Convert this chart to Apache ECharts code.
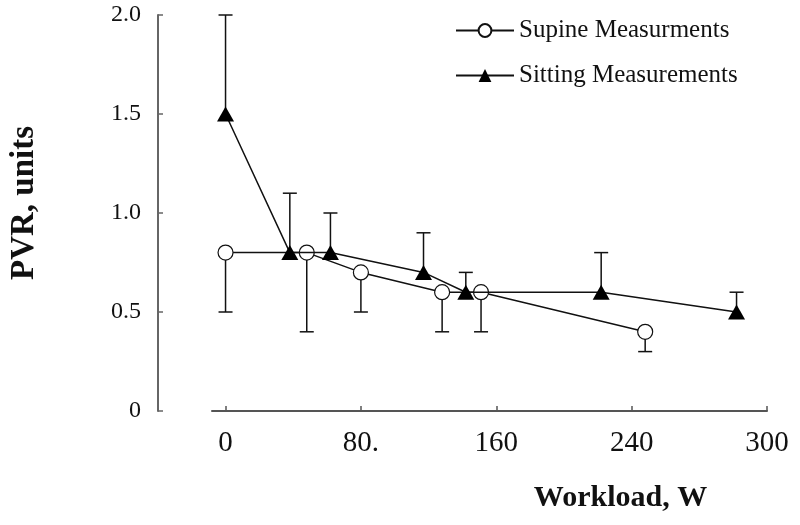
<!DOCTYPE html>
<html>
<head>
<meta charset="utf-8">
<script src="https://cdn.jsdelivr.net/npm/echarts@6/dist/echarts.min.js"></script>
<style>html,body{margin:0;padding:0;background:#fff}#c{width:800px;height:525px}</style>
</head>
<body>
<div id="c"></div>
<script>
// Data
const supineW    = [0, 48, 80, 128, 151, 248];
const supineMean = [0.8, 0.8, 0.7, 0.6, 0.6, 0.4];
const supineSD   = [0.3, 0.4, 0.2, 0.2, 0.2, 0.1];   // drawn downward

const sittingW    = [0, 38, 62, 117, 142, 222, 302];
const sittingMean = [1.5, 0.8, 0.8, 0.7, 0.6, 0.6, 0.5];
const sittingSD   = [0.5, 0.3, 0.2, 0.2, 0.1, 0.2, 0.1]; // drawn upward

const xTickValues = [0, 80, 160, 240, 320];
const xTickLabels = ['0', '80.', '160', '240', '300'];
const yTickLabels = ['0', '0.5', '1.0', '1.5', '2.0'];

const seriesNames = ['Supine Measurments', 'Sitting Measurements'];

const FONT = "'Liberation Serif','Times New Roman','DejaVu Serif',serif";
const INK = '#111';

const supineLine = supineW.map((w, i) => [w, supineMean[i]]);
const sittingLine = sittingW.map((w, i) => [w, sittingMean[i]]);
const supineErr = supineW.map((w, i) => [w, supineMean[i], +(supineMean[i] - supineSD[i]).toFixed(3)]);
const sittingErr = sittingW.map((w, i) => [w, sittingMean[i], +(sittingMean[i] + sittingSD[i]).toFixed(3)]);

function errRender(params, api) {
  const x = api.value(0), y = api.value(1), y2 = api.value(2);
  const p1 = api.coord([x, y]), p2 = api.coord([x, y2]);
  const hw = 7;
  const st = { stroke: INK, lineWidth: 1.5 };
  return {
    type: 'group',
    children: [
      { type: 'line', shape: { x1: p1[0], y1: p1[1], x2: p2[0], y2: p2[1] }, style: st },
      { type: 'line', shape: { x1: p2[0] - hw, y1: p2[1], x2: p2[0] + hw, y2: p2[1] }, style: st }
    ]
  };
}

const chart = echarts.init(document.getElementById('c'), null, { renderer: 'canvas' });
chart.setOption({
  animation: false,
  backgroundColor: '#fff',
  grid: { left: 208, right: 33, top: 15, bottom: 114, containLabel: false },
  legend: {
    orient: 'vertical',
    left: 450,
    top: 13,
    itemWidth: 58,
    itemHeight: 16,
    itemGap: 20,
    textStyle: { fontFamily: FONT, fontSize: 25, color: INK, padding: [0, 0, 0, 0] },
    data: seriesNames
  },
  xAxis: {
    type: 'value',
    min: -8,
    max: 320,
    name: 'Workload, W',
    nameLocation: 'middle',
    nameGap: 72,
    nameTextStyle: { fontFamily: FONT, fontSize: 30, fontWeight: 'bold', color: INK, padding: [0, 0, 0, 262] },
    axisLine: { show: true, onZero: false, lineStyle: { color: '#555', width: 2 } },
    axisTick: { show: true, inside: true, length: 5, customValues: xTickValues, lineStyle: { color: '#555', width: 1.5 } },
    axisLabel: {
      customValues: xTickValues,
      margin: 18,
      fontFamily: FONT, fontSize: 29, color: INK,
      formatter: v => xTickLabels[xTickValues.indexOf(v)]
    },
    splitLine: { show: false }
  },
  yAxis: {
    type: 'value',
    min: 0,
    max: 2,
    interval: 0.5,
    offset: 54,
    name: 'PVR, units',
    nameLocation: 'middle',
    nameRotate: 90,
    nameGap: 117,
    nameTextStyle: { fontFamily: FONT, fontSize: 33, fontWeight: 'bold', color: INK, padding: [0, 0, 0, 20] },
    axisLine: { show: true, onZero: false, lineStyle: { color: '#666', width: 2 } },
    axisTick: { show: true, inside: true, length: 5, lineStyle: { color: '#666', width: 1.5 } },
    axisLabel: {
      margin: 17,
      fontFamily: FONT, fontSize: 24, color: INK,
      formatter: v => yTickLabels[Math.round(v / 0.5)]
    },
    splitLine: { show: false }
  },
  series: [
    {
      type: 'custom', name: 'supineErr', renderItem: errRender, data: supineErr, z: 1,
      encode: { x: 0, y: [1, 2] }, silent: true
    },
    {
      type: 'custom', name: 'sittingErr', renderItem: errRender, data: sittingErr, z: 1,
      encode: { x: 0, y: [1, 2] }, silent: true
    },
    {
      type: 'line', name: seriesNames[0], data: supineLine, z: 3,
      symbol: 'circle', symbolSize: 15,
      lineStyle: { color: INK, width: 1.5 },
      itemStyle: { color: '#fff', borderColor: INK, borderWidth: 1.2 }
    },
    {
      type: 'line', name: seriesNames[1], data: sittingLine, z: 4,
      symbol: 'triangle', symbolSize: [17, 15],
      lineStyle: { color: INK, width: 1.5 },
      itemStyle: { color: '#000', borderColor: '#000', borderWidth: 0 }
    }
  ]
});
</script>
</body>
</html>
